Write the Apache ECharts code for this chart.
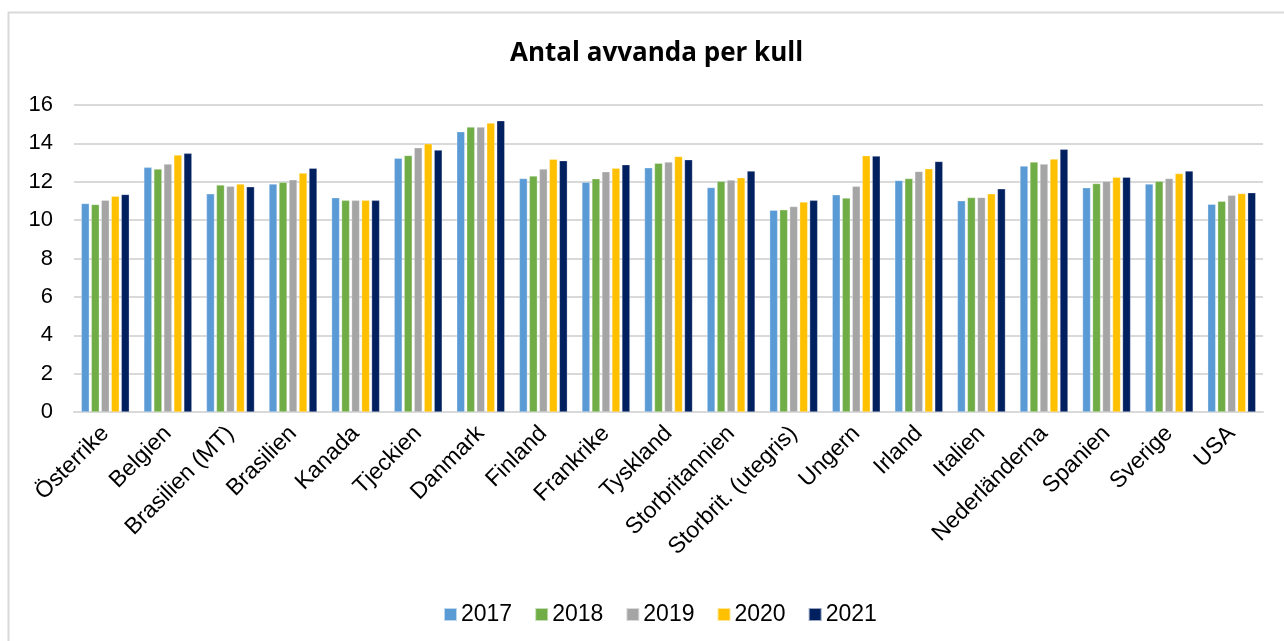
<!DOCTYPE html>
<html>
<head>
<meta charset="utf-8">
<script src="https://cdn.jsdelivr.net/npm/echarts@6/dist/echarts.min.js"></script>
<style>
  html, body { margin: 0; padding: 0; background: #fff; }
  .main { width: 1284px; height: 641px; }
</style>
</head>
<body>
<div class="main" id="main"></div>
<script>
var categories = ['Österrike', 'Belgien', 'Brasilien (MT)', 'Brasilien', 'Kanada', 'Tjeckien', 'Danmark', 'Finland', 'Frankrike', 'Tyskland', 'Storbritannien', 'Storbrit. (utegris)', 'Ungern', 'Irland', 'Italien', 'Nederländerna', 'Spanien', 'Sverige', 'USA'];
var years = ['2017', '2018', '2019', '2020', '2021'];
var colors = ['#5b9bd5', '#70ad47', '#a5a5a5', '#ffc000', '#002060'];

var y2017 = [10.87, 12.75, 11.37, 11.88, 11.17, 13.23, 14.61, 12.17, 11.98, 12.73, 11.70, 10.52, 11.32, 12.07, 11.01, 12.82, 11.69, 11.88, 10.83];
var y2018 = [10.82, 12.66, 11.83, 11.97, 11.03, 13.37, 14.85, 12.30, 12.16, 12.97, 12.03, 10.54, 11.15, 12.17, 11.18, 13.03, 11.91, 12.03, 10.99];
var y2019 = [11.04, 12.92, 11.76, 12.10, 11.03, 13.77, 14.85, 12.66, 12.52, 13.03, 12.09, 10.71, 11.77, 12.54, 11.18, 12.92, 12.03, 12.17, 11.29];
var y2020 = [11.25, 13.39, 11.88, 12.45, 11.03, 13.98, 15.06, 13.17, 12.71, 13.32, 12.21, 10.94, 13.36, 12.68, 11.37, 13.18, 12.24, 12.43, 11.39];
var y2021 = [11.34, 13.48, 11.74, 12.71, 11.03, 13.65, 15.18, 13.10, 12.89, 13.15, 12.56, 11.03, 13.34, 13.06, 11.63, 13.69, 12.24, 12.56, 11.43];
var yTicks = [0, 2, 4, 6, 8, 10, 12, 14, 16];

var seriesData = [y2017, y2018, y2019, y2020, y2021];

var chart = echarts.init(document.getElementById('main'));
var txt = 'Liberation Sans, Arial, sans-serif';

var series = years.map(function (yr, i) {
  return {
    name: yr,
    type: 'bar',
    data: seriesData[i],
    barWidth: 8,
    barGap: '25%',
    itemStyle: { color: colors[i], borderColor: 'rgba(255,255,255,0.6)', borderWidth: 0.5 }
  };
});

var option = {
  animation: false,
  color: colors,
  graphic: [{
    type: 'rect',
    shape: { x: 8.5, y: 12.5, width: 1400, height: 800 },
    style: { fill: 'none', stroke: '#d9d9d9', lineWidth: 2 },
    silent: true
  }],
  title: {
    text: 'Antal avvanda per kull',
    left: 505,
    top: 36,
    textStyle: { fontFamily: 'Open Sans, Noto Sans, sans-serif', fontWeight: 'bold', fontSize: 26, color: '#000' }
  },
  legend: {
    data: years,
    top: 598,
    left: 438,
    icon: 'rect',
    itemWidth: 13,
    itemHeight: 13,
    itemGap: 22,
    textStyle: { fontFamily: txt, fontSize: 23, color: '#000', padding: [0, 0, 0, -1] }
  },
  grid: { left: 74, right: 21, top: 105, bottom: 229, containLabel: false },
  xAxis: {
    type: 'category',
    data: categories,
    axisLine: { lineStyle: { color: '#d9d9d9', width: 2 } },
    axisTick: { show: false },
    axisLabel: { interval: 0, rotate: 45, margin: 18, fontFamily: txt, fontSize: 23, color: '#000' }
  },
  yAxis: {
    type: 'value',
    min: yTicks[0],
    max: yTicks[yTicks.length - 1],
    interval: 2,
    axisLine: { show: false },
    axisTick: { show: false },
    splitLine: { lineStyle: { color: '#d9d9d9', width: 2 } },
    axisLabel: { margin: 21, fontFamily: txt, fontSize: 22, color: '#000' }
  },
  series: series
};
chart.setOption(option);
</script>
</body>
</html>
